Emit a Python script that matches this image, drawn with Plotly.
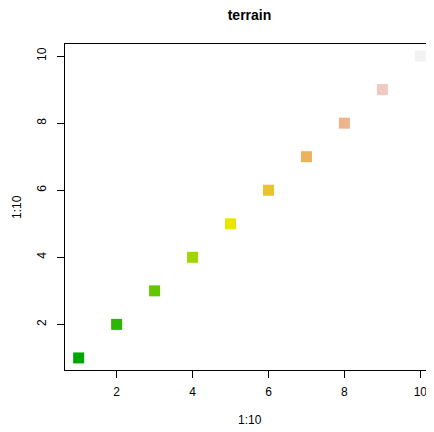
import plotly.graph_objects as go

x_vals = list(range(1, 11))
y_vals = list(range(1, 11))
colors = ["#00A600", "#2DB600", "#63C600", "#A0D600", "#E6E600",
          "#E8C32E", "#EBB25E", "#EDB48E", "#F0C9C0", "#F2F2F2"]
tick_vals = [2, 4, 6, 8, 10]
title_text = "terrain"
x_label = "1:10"
y_label = "1:10"

font_family = "Liberation Sans, Arial, Helvetica, sans-serif"

# page body has an 8px default margin; compensate so the figure lines up
W, H = 426, 424

fig = go.Figure()
fig.add_trace(go.Scatter(
    x=x_vals, y=y_vals, mode="markers",
    marker=dict(symbol="square", size=11, color=colors, line=dict(width=0)),
    showlegend=False, hoverinfo="skip",
))

axis_common = dict(
    showgrid=False, zeroline=False,
    showline=True, linecolor="black", linewidth=1, mirror=True,
    ticks="outside", ticklen=7, tickwidth=1, tickcolor="black",
    tickvals=tick_vals, ticktext=[str(v) for v in tick_vals],
    tickfont=dict(family=font_family, size=12, color="black"),
)

fig.update_layout(
    width=W, height=H,
    margin=dict(l=57, r=0, t=36, b=62, pad=0),
    paper_bgcolor="white", plot_bgcolor="white",
    font=dict(family=font_family, size=12, color="black"),
    title=dict(text="<b>" + title_text + "</b>", x=0.5, xref="paper",
               y=1 - 7 / H, yref="container", yanchor="middle",
               font=dict(family=font_family, size=14, color="black")),
    xaxis=dict(range=[0.64, 10.36], ticklabelstandoff=4, **axis_common),
    yaxis=dict(range=[0.64, 10.36], tickangle=-90, ticklabelstandoff=6,
               **axis_common),
    annotations=[
        dict(text=x_label, xref="paper", yref="paper", x=0.5, y=0,
             xanchor="center", yanchor="middle", yshift=-50, showarrow=False,
             font=dict(family=font_family, size=12, color="black")),
        dict(text=y_label, xref="paper", yref="paper", x=0, y=0.5,
             xanchor="center", yanchor="middle", xshift=-48, textangle=-90,
             showarrow=False,
             font=dict(family=font_family, size=12, color="black")),
    ],
)

fig.write_html("out.html")
